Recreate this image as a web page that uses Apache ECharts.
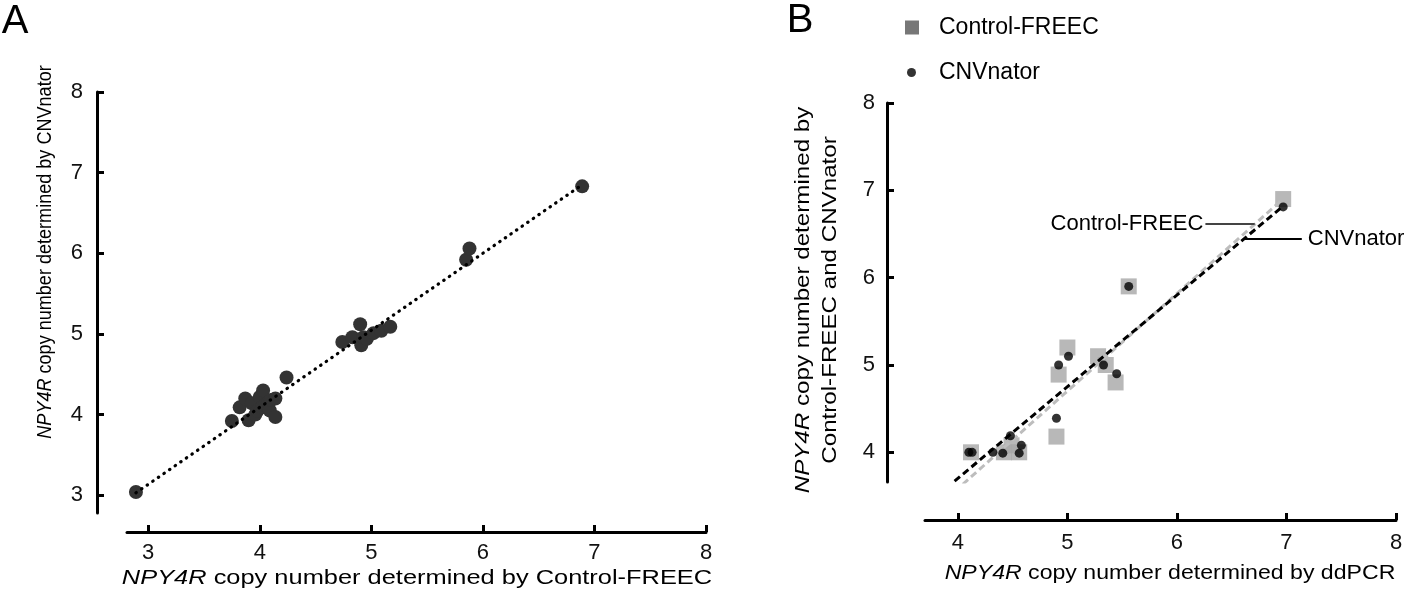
<!DOCTYPE html>
<html>
<head>
<meta charset="utf-8">
<script src="https://cdn.jsdelivr.net/npm/echarts@6/dist/echarts.min.js"></script>
<style>html,body{margin:0;padding:0;background:#fff}#c{width:1417px;height:591px}</style>
</head>
<body>
<div id="c"></div>
<script>
// Panel A: Control-FREEC (x) vs CNVnator (y)
const aX = [2.89, 3.75, 3.82, 3.87, 3.90, 3.93, 3.96, 3.98, 4.00, 4.02, 4.03, 4.05, 4.08, 4.09, 4.10, 4.14, 4.14, 4.24, 4.74, 4.83, 4.90, 4.91, 4.93, 4.96, 5.02, 5.09, 5.17, 5.85, 5.88, 6.89];
const aY = [3.04, 3.92, 4.09, 4.20, 3.93, 4.14, 4.00, 4.05, 4.22, 4.09, 4.30, 4.12, 4.15, 4.05, 4.18, 3.97, 4.20, 4.46, 4.90, 4.96, 5.12, 4.86, 4.96, 4.94, 5.01, 5.04, 5.09, 5.92, 6.06, 6.83];
const aFitX = [2.89, 6.89];
const aFitY = [3.03, 6.85];
const aTicks = [3, 4, 5, 6, 7, 8];

// Panel B: ddPCR (x) vs Control-FREEC / CNVnator (y)
const freecX = [4.12, 4.42, 4.49, 4.56, 4.90, 4.92, 5.00, 5.28, 5.35, 5.44, 5.56, 6.97];
const freecY = [4.00, 4.00, 4.08, 4.00, 4.18, 4.89, 5.20, 5.10, 5.00, 4.80, 5.90, 6.90];
const cnvX = [4.10, 4.13, 4.32, 4.41, 4.48, 4.56, 4.58, 4.90, 4.92, 5.01, 5.33, 5.45, 5.56, 6.97];
const cnvY = [4.00, 4.00, 4.00, 3.99, 4.19, 3.99, 4.08, 4.39, 5.00, 5.10, 5.00, 4.90, 5.90, 6.81];
const freecFitX = [3.97, 6.95];
const freecFitY = [3.55, 6.88];
const cnvFitX = [3.97, 6.97];
const cnvFitY = [3.67, 6.82];
const bXTicks = [4, 5, 6, 7, 8];
const bYTicks = [4, 5, 6, 7, 8];

const zip = (xs, ys) => xs.map((x, i) => [x, ys[i]]);
const FONT = '"Liberation Sans", Arial, sans-serif';

function axisCommon(ticks, margin) {
  return {
    type: 'value',
    splitLine: { show: false },
    axisLine: { show: true, onZero: false, lineStyle: { color: '#000', width: 3 } },
    axisTick: { show: true, inside: true, length: 7, customValues: ticks, lineStyle: { color: '#000', width: 3 } },
    axisLabel: { customValues: ticks, fontSize: 22, color: '#111', margin: margin, fontFamily: FONT }
  };
}

function titleText(x, y, text, size, sx, rot, lh) {
  const el = {
    type: 'text', x: x, y: y, scaleX: sx, rotation: rot || 0,
    style: { text: text, fontSize: size, fontFamily: FONT, fill: '#000', align: 'center', verticalAlign: 'middle',
      rich: { i: { fontStyle: 'italic', fontSize: size, fontFamily: FONT, fill: '#000' } } }
  };
  if (lh) { el.style.lineHeight = lh; el.style.rich.i.lineHeight = lh; }
  return el;
}

const chart = echarts.init(document.getElementById('c'), null, { renderer: 'canvas' });
const option = {
  animation: false,
  backgroundColor: '#fff',
  textStyle: { fontFamily: FONT },
  grid: [
    { left: 127, top: 92, width: 579, height: 421 },
    { left: 925, top: 103, width: 471, height: 379 }
  ],
  xAxis: [
    Object.assign(axisCommon(aTicks, 10), { gridIndex: 0, min: 2.81, max: 8, offset: 19 }),
    Object.assign(axisCommon(bXTicks, 12), { gridIndex: 1, min: 3.70, max: 8, offset: 38 })
  ],
  yAxis: [
    Object.assign(axisCommon(aTicks, 14), { gridIndex: 0, min: 2.78, max: 8, offset: 30 }),
    Object.assign(axisCommon(bYTicks, 12), { gridIndex: 1, min: 3.66, max: 8, offset: 38 })
  ],
  legend: [
    {
      data: [{ name: 'Control-FREEC', icon: 'rect', itemStyle: { color: '#555' } }],
      left: 900, top: 11, itemWidth: 14, itemHeight: 14,
      textStyle: { fontSize: 23, color: '#000', fontFamily: FONT, padding: [0, 0, 0, 15] },
      selectedMode: false
    },
    {
      data: [{ name: 'CNVnator', icon: 'circle', itemStyle: { color: '#000' } }],
      left: 902, top: 56, itemWidth: 9, itemHeight: 9,
      textStyle: { fontSize: 23, color: '#000', fontFamily: FONT, padding: [0, 0, 0, 18] },
      selectedMode: false
    }
  ],
  series: [
    {
      name: 'A fit', type: 'line', xAxisIndex: 0, yAxisIndex: 0,
      data: zip(aFitX, aFitY), symbol: 'none', z: 2,
      lineStyle: { color: '#000', width: 3.2, type: [0.5, 6.3], cap: 'round' }
    },
    {
      name: 'A points', type: 'scatter', xAxisIndex: 0, yAxisIndex: 0,
      data: zip(aX, aY), symbol: 'circle', symbolSize: 14, z: 1,
      itemStyle: { color: '#333', opacity: 1 }
    },
    {
      name: 'Control-FREEC', type: 'scatter', xAxisIndex: 1, yAxisIndex: 1,
      data: zip(freecX, freecY), symbol: 'rect', symbolSize: 16, z: 1,
      itemStyle: { color: '#a6a6a6' }
    },
    {
      name: 'FREEC fit', type: 'line', xAxisIndex: 1, yAxisIndex: 1,
      data: zip(freecFitX, freecFitY), symbol: 'none', z: 2,
      lineStyle: { color: '#bdbdbd', width: 3, type: [7, 4] },
      markLine: {
        silent: true, symbol: 'none',
        lineStyle: { color: '#444', width: 2, type: 'solid' },
        label: { show: true, position: 'start', formatter: 'Control-FREEC', fontSize: 22, color: '#000', fontFamily: FONT, distance: 2 },
        data: [[{ coord: [6.26, 6.62] }, { coord: [6.71, 6.62] }]]
      }
    },
    {
      name: 'CNV fit', type: 'line', xAxisIndex: 1, yAxisIndex: 1,
      data: zip(cnvFitX, cnvFitY), symbol: 'none', z: 3,
      lineStyle: { color: '#000', width: 3, type: [7, 4] },
      markLine: {
        silent: true, symbol: 'none',
        lineStyle: { color: '#000', width: 2, type: 'solid' },
        label: { show: true, position: 'end', formatter: 'CNVnator', fontSize: 22, color: '#000', fontFamily: FONT, distance: 6 },
        data: [[{ coord: [6.62, 6.44] }, { coord: [7.14, 6.44] }]]
      }
    },
    {
      name: 'CNVnator', type: 'scatter', xAxisIndex: 1, yAxisIndex: 1,
      data: zip(cnvX, cnvY), symbol: 'circle', symbolSize: 9, z: 4,
      itemStyle: { color: '#000' }
    }
  ],
  graphic: [
    { type: 'text', x: 15, y: 22, style: { text: 'A', fontSize: 40, fontFamily: FONT, fill: '#000', align: 'center', verticalAlign: 'middle' } },
    { type: 'text', x: 800, y: 21, style: { text: 'B', fontSize: 40, fontFamily: FONT, fill: '#000', align: 'center', verticalAlign: 'middle' } },
    titleText(45, 252, '{i|NPY4R} copy number determined by CNVnator', 21, 0.86, Math.PI / 2),
    titleText(417, 578, '{i|NPY4R} copy number determined by Control-FREEC', 21, 1.21, 0),
    titleText(817, 300, '{i|NPY4R} copy number determined by\nControl-FREEC and CNVnator', 21, 1.15, Math.PI / 2, 27),
    titleText(1170, 573, '{i|NPY4R} copy number determined by ddPCR', 21, 1.1, 0)
  ]
};
chart.setOption(option);
</script>
</body>
</html>
